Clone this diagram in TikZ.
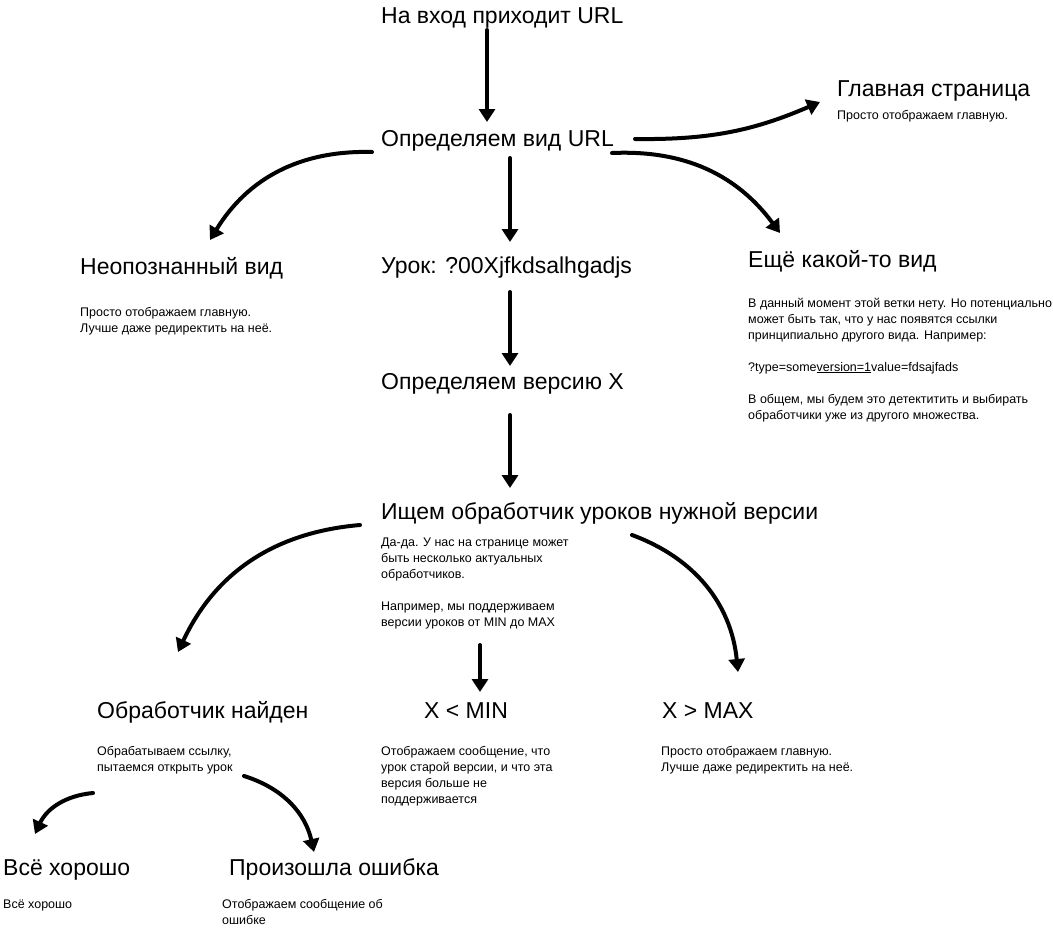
\documentclass[tikz,border=0pt]{standalone}
\usepackage{fontspec}
\setmainfont{Liberation Sans}
\usetikzlibrary{arrows.meta}
\newcommand{\mylines}[1]{\begin{tabular}[t]{@{}l@{}}#1\end{tabular}}
\begin{document}
\begin{tikzpicture}[x=1pt,y=-1pt,
  head/.style={anchor=base west,inner sep=0pt,font=\fontsize{23}{28}\selectfont},
  note/.style={anchor=base west,inner sep=0pt,font=\fontsize{12.5}{16}\selectfont},
  arr/.style={line width=4pt,line cap=round,-{Triangle[length=13pt,width=16pt]}},
]
\useasboundingbox[fill=white] (0,0) rectangle (1053,945);
% headings
\node[head] (h1) at (381,23) {На вход приходит URL};
\node[head] (h2) at (381,146) {Определяем вид URL};
\node[head] (main) at (837,96) {Главная страница};
\node[note] (mainT) at (837,119) {\mylines{Просто отображаем главную.}};
\node[head] (unk) at (80,274) {Неопознанный вид};
\node[note] (unkT) at (80,316) {\mylines{Просто отображаем главную.\\ Лучше даже редиректить на неё.}};
\node[head] (lesson) at (381,273) {Урок: ?00Xjfkdsalhgadjs};
\node[head] (other) at (748,267) {Ещё какой-то вид};
\node[note] (otherT) at (748,307) {\mylines{В данный момент этой ветки нету. Но потенциально\\ может быть так, что у нас появятся ссылки\\ принципиально другого вида. Например:\\ \\ ?type=some\underline{version=1}value=fdsajfads\\ \\ В общем, мы будем это детектитить и выбирать\\ обработчики уже из другого множества.}};
\node[head] (ver) at (381,389) {Определяем версию X};
\node[head] (find) at (381,519) {Ищем обработчик уроков нужной версии};
\node[note] (findT) at (381,546) {\mylines{Да-да. У нас на странице может\\ быть несколько актуальных\\ обработчиков.\\ \\ Например, мы поддерживаем\\ версии уроков от MIN до MAX}};
\node[head] (found) at (97,718) {Обработчик найден};
\node[note] (foundT) at (97,755) {\mylines{Обрабатываем ссылку,\\ пытаемся открыть урок}};
\node[head] (min) at (424,718) {X < MIN};
\node[note] (minT) at (381,755) {\mylines{Отображаем сообщение, что\\ урок старой версии, и что эта\\ версия больше не\\ поддерживается}};
\node[head] (max) at (662,718) {X > MAX};
\node[note] (maxT) at (661,755) {\mylines{Просто отображаем главную.\\ Лучше даже редиректить на неё.}};
\node[head] (ok) at (3,875) {Всё хорошо};
\node[note] (okT) at (3,908) {\mylines{Всё хорошо}};
\node[head] (err) at (229,875) {Произошла ошибка};
\node[note] (errT) at (222,908) {\mylines{Отображаем сообщение об\\ ошибке}};
% arrows
\draw[arr] ([shift={(106,7)}]h1.base west) -- ([shift={(106,-24)}]h2.base west);
\draw[arr] ([shift={(254,-7)}]h2.base west) to[bend right=12] ([shift={(-17,6)}]main.base west);
\draw[arr] ([shift={(231,7)}]h2.base west) to[bend left=28] ([shift={(32,-34)}]other.base west);
\draw[arr] ([shift={(-9,6)}]h2.base west) to[bend right=30] ([shift={(130,-34)}]unk.base west);
\draw[arr] ([shift={(129,12)}]h2.base west) -- ([shift={(129,-31)}]lesson.base west);
\draw[arr] ([shift={(129,19)}]lesson.base west) -- ([shift={(129,-23)}]ver.base west);
\draw[arr] ([shift={(129,26)}]ver.base west) -- ([shift={(129,-31)}]find.base west);
\draw[arr] ([shift={(-21,6)}]find.base west) to[bend right=30] ([shift={(81,-66)}]found.base west);
\draw[arr] ([shift={(251,16)}]find.base west) to[bend left=32] ([shift={(76,-46)}]max.base west);
\draw[arr] ([shift={(56,-73)}]min.base west) -- ([shift={(56,-26)}]min.base west);
\draw[arr] ([shift={(-4,38)}]foundT.base west) to[bend right=30] ([shift={(32,-41)}]ok.base west);
\draw[arr] ([shift={(147,21)}]foundT.base west) to[bend left=30] ([shift={(85,-23)}]err.base west);
\end{tikzpicture}
\end{document}
